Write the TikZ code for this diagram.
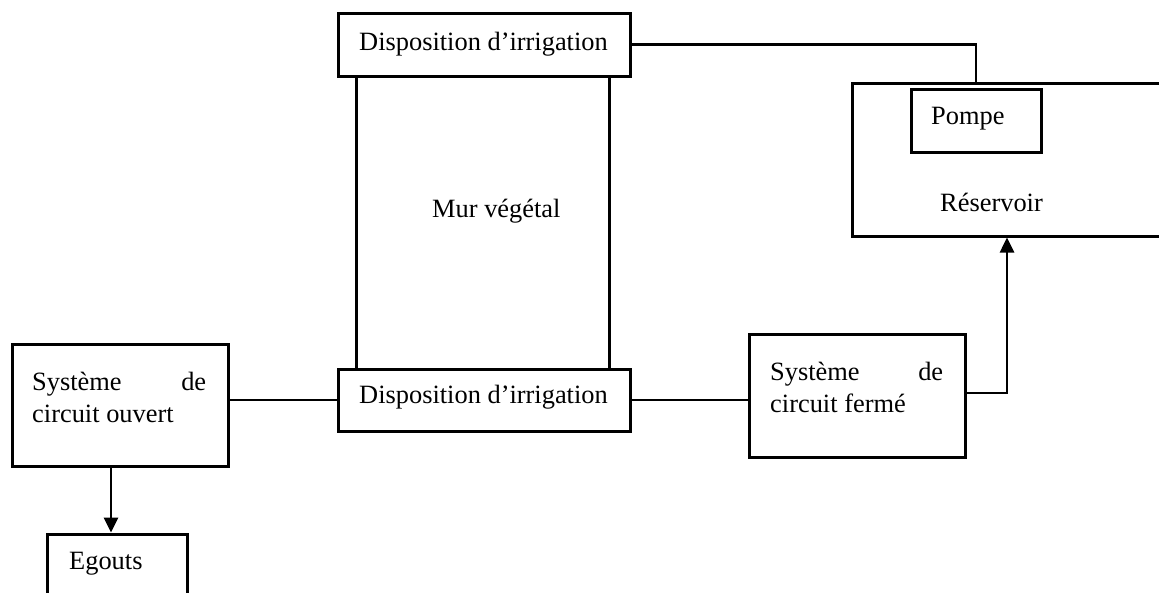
\documentclass[tikz,border=0pt]{standalone}
\usepackage{fontspec}
\setmainfont{Liberation Serif}
\usetikzlibrary{arrows.meta}
\tikzset{
  box/.style={draw, line width=3pt, inner sep=0pt, fill=none},
  conn/.style={line width=2.6pt},
  arr/.style={-{Triangle[length=15pt,width=14pt]}},
  txt/.style={inner sep=0pt, anchor=base west, font=\fontsize{26.4}{32}\selectfont}
}
\begin{document}
\begin{tikzpicture}[x=1pt,y=-1pt]
\useasboundingbox (0,0) rectangle (1159,592);
\clip (0,0) rectangle (1159,592);
% boxes
\node[box, minimum width=292pt, minimum height=63pt] (top) at (484,44.5) {};
\node[box, minimum width=253pt, minimum height=293pt] (mur) at (482.5,222.5) {};
\node[box, minimum width=292pt, minimum height=62pt] (bot) at (484,400) {};
\node[box, minimum width=216pt, minimum height=122pt] (ouv) at (120,405) {};
\node[box, minimum width=216pt, minimum height=123pt] (fer) at (857,395.5) {};
\node[box, minimum width=323pt, minimum height=153pt] (res) at (1013.5,159.5) {};
\node[box, minimum width=130pt, minimum height=63pt] (pom) at (976,120.5) {};
\node[box, minimum width=140pt, minimum height=72pt] (ego) at (117,570) {};
% texts
\node[txt] (toptxt) at (359,50) {Disposition d’irrigation};
\node[txt] (murtxt) at (432,217) {Mur végétal};
\node[txt] (bottxt) at (359,403) {Disposition d’irrigation};
\node[txt] (ouvtxt) at (32,390) {\parbox[t]{174pt}{\makebox[174pt][s]{Système de}\\circuit ouvert}};
\node[txt] (fertxt) at (770,380.5) {\parbox[t]{173pt}{\makebox[173pt][s]{Système de}\\circuit fermé}};
\node[txt] (restxt) at (940,211.5) {Réservoir};
\node[txt] (pomtxt) at (931,124) {Pompe};
\node[txt] (egotxt) at (69,569) {Egouts};
% connectors
\draw[conn] (top.east) -| (pom.north |- res.north);
\draw[conn] (bot.west) -- (ouv.east |- bot.west);
\draw[conn] (bot.east) -- (fer.west |- bot.east);
\draw[conn, arr] ([yshift=2.5pt]fer.east) -| ([xshift=-6.5pt]res.south);
\draw[conn, arr] ([xshift=-9pt]ouv.south) -- ([xshift=-9pt]ouv.south |- ego.north);
\end{tikzpicture}
\end{document}
